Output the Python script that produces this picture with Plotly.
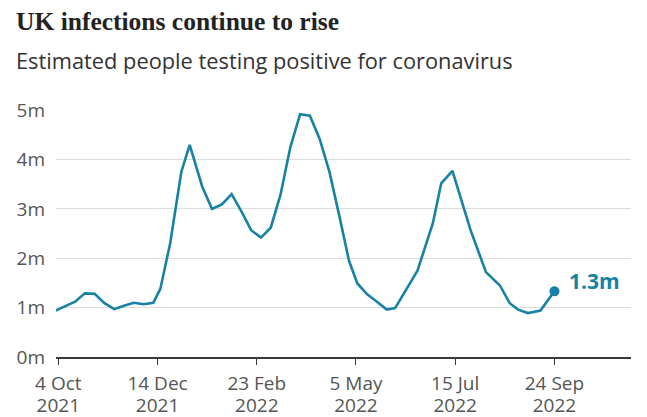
import plotly.graph_objects as go

# Data: estimated people testing positive (millions), UK
dates = [
    "2021-10-02", "2021-10-09", "2021-10-16", "2021-10-23", "2021-10-30",
    "2021-11-06", "2021-11-13", "2021-11-20", "2021-11-27", "2021-12-04",
    "2021-12-11", "2021-12-16", "2021-12-23", "2021-12-31", "2022-01-06",
    "2022-01-15", "2022-01-22", "2022-01-29", "2022-02-05", "2022-02-12",
    "2022-02-19", "2022-02-26", "2022-03-05", "2022-03-12", "2022-03-19",
    "2022-03-26", "2022-04-02", "2022-04-09", "2022-04-16", "2022-04-23",
    "2022-04-30", "2022-05-06", "2022-05-13", "2022-05-20", "2022-05-27",
    "2022-06-02", "2022-06-10", "2022-06-18", "2022-06-29", "2022-07-05",
    "2022-07-13", "2022-07-19", "2022-07-26", "2022-08-06", "2022-08-16",
    "2022-08-23", "2022-08-29", "2022-09-05", "2022-09-14", "2022-09-24",
]
infections = [
    0.94, 1.03, 1.12, 1.29, 1.28,
    1.09, 0.97, 1.04, 1.10, 1.07,
    1.10, 1.38, 2.30, 3.75, 4.30,
    3.45, 3.00, 3.09, 3.30, 2.95,
    2.57, 2.42, 2.62, 3.29, 4.25,
    4.92, 4.89, 4.42, 3.75, 2.87,
    1.95, 1.49, 1.27, 1.12, 0.96,
    0.99, 1.37, 1.75, 2.71, 3.52,
    3.77, 3.21, 2.57, 1.72, 1.45,
    1.09, 0.96, 0.89, 0.94, 1.33,
]
tick_dates = ["2021-10-04", "2021-12-14", "2022-02-23", "2022-05-05", "2022-07-15", "2022-09-24"]
tick_day_labels = ["4 Oct", "14 Dec", "23 Feb", "5 May", "15 Jul", "24 Sep"]
tick_year_labels = ["2021", "2021", "2022", "2022", "2022", "2022"]
y_ticks = [0, 1, 2, 3, 4, 5]
y_labels = ["0m", "1m", "2m", "3m", "4m", "5m"]
last_label = "1.3m"

LINE = "#1782a3"
SANS = "Open Sans, Noto Sans, sans-serif"
X_RANGE = ["2021-10-02 08:00", "2022-11-17 19:00"]

fig = go.Figure()
fig.add_trace(go.Scatter(
    x=dates, y=infections, mode="lines",
    line=dict(color=LINE, width=2.6), hoverinfo="skip", showlegend=False,
))
fig.add_trace(go.Scatter(
    x=[dates[-1]], y=[infections[-1]], mode="markers",
    marker=dict(color=LINE, size=10), hoverinfo="skip", showlegend=False,
))
# invisible trace to carry the second (year) tick row
fig.add_trace(go.Scatter(
    x=[dates[0]], y=[infections[0]], xaxis="x2", mode="markers",
    marker=dict(opacity=0), hoverinfo="skip", showlegend=False,
))

W, H = 647, 417
L, R, T, B = 56, 16, 110, 60
pw, ph = W - L - R, H - T - B

def px_x(x):
    return (x - L) / pw

def px_y(y):
    return (H - B - y) / ph

tickfont = dict(size=19, color="#555555", family=SANS)

fig.update_layout(
    width=W, height=H,
    margin=dict(l=L, r=R, t=T, b=B, autoexpand=False),
    paper_bgcolor="white", plot_bgcolor="white",
    font=dict(family=SANS, color="#555555", size=19),
    xaxis=dict(
        type="date", range=X_RANGE,
        tickvals=tick_dates, ticktext=tick_day_labels,
        showgrid=False, zeroline=False,
        showline=True, linecolor="#3a3a3a", linewidth=1.5,
        ticks="outside", ticklen=6, tickcolor="#3a3a3a", tickwidth=1,
        ticklabelstandoff=2,
        tickfont=tickfont, automargin=False, fixedrange=True,
    ),
    xaxis2=dict(
        type="date", range=X_RANGE, overlaying="x", side="bottom", anchor="y",
        tickvals=tick_dates, ticktext=tick_year_labels,
        showgrid=False, zeroline=False, showline=False, ticks="",
        ticklabelstandoff=35,
        tickfont=tickfont, automargin=False, fixedrange=True,
    ),
    yaxis=dict(
        range=[0, 5.005],
        tickvals=y_ticks, ticktext=y_labels,
        showgrid=True, gridcolor="#dcdcdc", gridwidth=1,
        zeroline=False, showline=False, ticks="",
        ticklabelstandoff=10,
        tickfont=tickfont, automargin=False, fixedrange=True,
    ),
    annotations=[
        dict(text="<b>UK infections continue to rise</b>", xref="paper", yref="paper",
             x=px_x(14), y=px_y(22), xanchor="left", yanchor="middle", showarrow=False,
             font=dict(family="Liberation Serif, DejaVu Serif, serif", size=25.5, color="#222222"),
             ),
        dict(text="Estimated people testing positive for coronavirus", xref="paper", yref="paper",
             x=px_x(14), y=px_y(60), xanchor="left", yanchor="middle", showarrow=False,
             font=dict(family=SANS, size=21.8, color="#333333")),
        dict(text="<b>" + last_label + "</b>", x=dates[-1], y=infections[-1],
             xref="x", yref="y", xanchor="left", yanchor="middle", showarrow=False,
             xshift=13, yshift=10,
             font=dict(family=SANS, size=21, color=LINE)),
    ],
)

fig.write_html("out.html")
